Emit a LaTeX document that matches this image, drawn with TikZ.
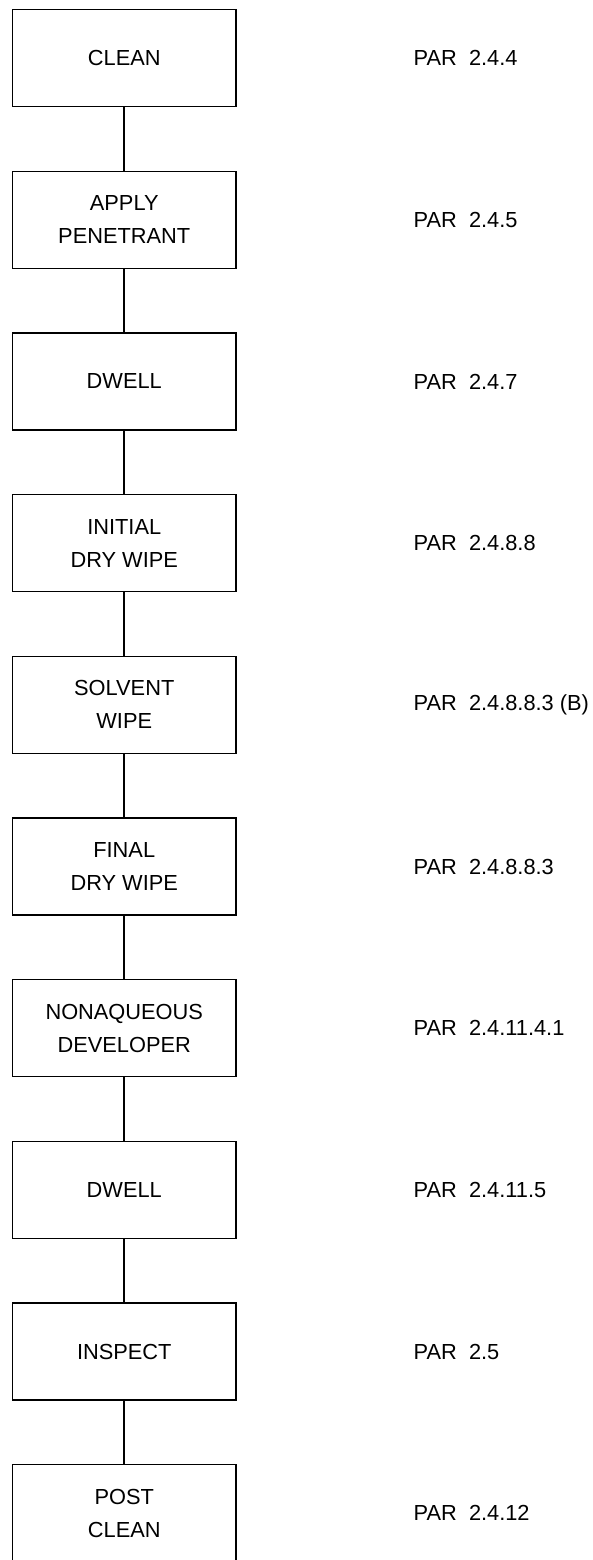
\documentclass[tikz,border=0pt]{standalone}
\usepackage{fontspec}
\setmainfont{Liberation Sans}
\begin{document}
\begin{tikzpicture}[x=1pt,y=1pt,
  stepbox/.style={draw=black,line width=1.3pt,minimum width=223.5pt,minimum height=97pt,inner sep=0pt,align=center,font=\fontsize{21.8}{33}\selectfont},
  parlabel/.style={anchor=west,inner sep=0pt,font=\fontsize{21.8}{25}\selectfont},
  link/.style={draw=black,line width=2.3pt}]
\useasboundingbox (0,0) rectangle (592,-1560);
\clip (0,0) rectangle (592,-1560);
\foreach \i/\t/\p in {0/{CLEAN}/{PAR\ \ 2.4.4},
  1/{APPLY\\PENETRANT}/{PAR\ \ 2.4.5},
  2/{DWELL}/{PAR\ \ 2.4.7},
  3/{INITIAL\\DRY WIPE}/{PAR\ \ 2.4.8.8},
  4/{SOLVENT\\WIPE}/{PAR\ \ 2.4.8.8.3 (B)},
  5/{FINAL\\DRY WIPE}/{PAR\ \ 2.4.8.8.3},
  6/{NONAQUEOUS\\DEVELOPER}/{PAR\ \ 2.4.11.4.1},
  7/{DWELL}/{PAR\ \ 2.4.11.5},
  8/{INSPECT}/{PAR\ \ 2.5},
  9/{POST\\CLEAN}/{PAR\ \ 2.4.12}}{
  \node[stepbox] (b\i) at (124.25,{-(58+161.7*\i)}) {\t};
  \node[parlabel] (p\i) at (413.5,{-(58+161.7*\i)}) {\p};
}
\foreach \i [evaluate=\i as \j using int(\i+1)] in {0,...,8}{
  \draw[link] (b\i.south) -- (b\j.north);
}
\end{tikzpicture}
\end{document}
